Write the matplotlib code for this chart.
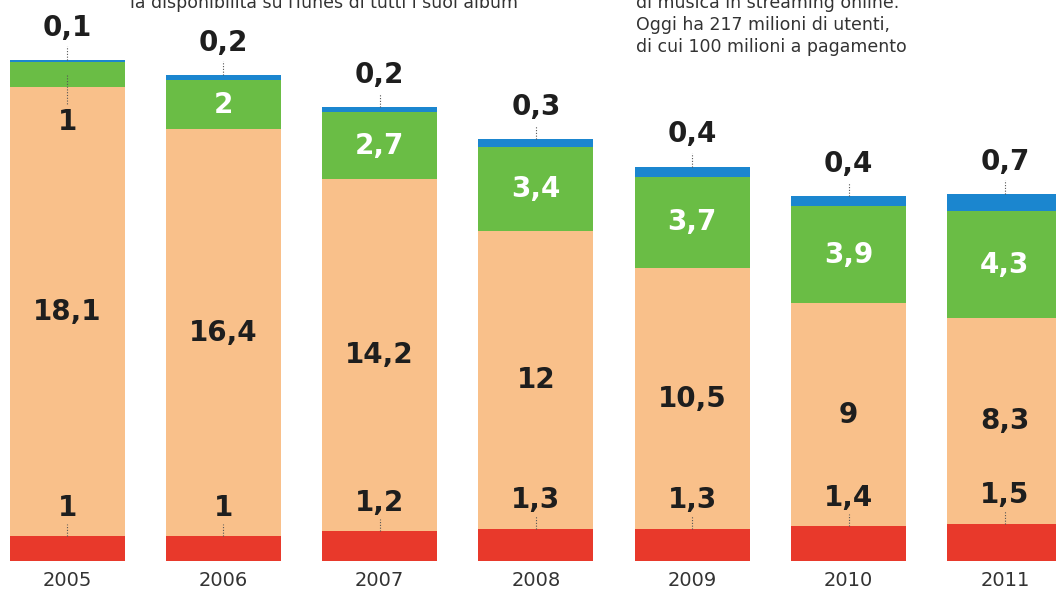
import matplotlib
matplotlib.use('Agg')
import matplotlib.pyplot as plt

# Data (values per segment, bottom to top)
years = ['2005', '2006', '2007', '2008', '2009', '2010', '2011']
red_vals = [1, 1, 1.2, 1.3, 1.3, 1.4, 1.5]
orange_vals = [18.1, 16.4, 14.2, 12, 10.5, 9, 8.3]
green_vals = [1, 2, 2.7, 3.4, 3.7, 3.9, 4.3]
blue_vals = [0.1, 0.2, 0.2, 0.3, 0.4, 0.4, 0.7]

note_left = "la disponibilità su iTunes di tutti i suoi album"
note_right = ["di musica in streaming online.",
              "Oggi ha 217 milioni di utenti,",
              "di cui 100 milioni a pagamento"]

RED = '#e8392b'
ORANGE = '#f9c08a'
GREEN = '#6abd45'
BLUE = '#1b86cf'
DARK = '#1e1e1e'


def fmt(v):
    # Italian decimal comma
    s = f'{v:g}'
    return s.replace('.', ',')


fig = plt.figure(figsize=(10.56, 5.92), dpi=100)
ax = fig.add_axes([0, 31 / 592, 1, 561 / 592])
ax.set_xlim(-0.429, 6.327)
ax.set_ylim(0, 22.62)
ax.axis('off')

x = list(range(len(years)))
w = 0.736
bottom = [0] * len(years)
for vals, col in [(red_vals, RED), (orange_vals, ORANGE), (green_vals, GREEN), (blue_vals, BLUE)]:
    ax.bar(x, vals, width=w, bottom=bottom, color=col, linewidth=0)
    bottom = [b + v for b, v in zip(bottom, vals)]

lbl = dict(fontsize=20, fontweight='bold', ha='center', va='center', color=DARK)
lead = dict(color='#555555', lw=0.8, ls=(0, (1, 1.5)))

for i in x:
    r, o, g, b = red_vals[i], orange_vals[i], green_vals[i], blue_vals[i]
    top = r + o + g + b
    # blue: above the bar with a dotted leader
    ax.text(i, top + 1.3, fmt(b), **lbl)
    ax.plot([i, i], [top, top + 0.55], **lead)
    # green: inside in white, or below in the orange if too thin
    if g >= 1.5:
        ax.text(i, r + o + g / 2, fmt(g), **{**lbl, 'color': 'white'})
    else:
        ax.text(i, r + o - 1.4, fmt(g), **lbl)
        ax.plot([i, i], [r + o + g / 2, r + o - 0.7], **lead)
    # orange: centered
    ax.text(i, r + o / 2, fmt(o), **lbl)
    # red: just above the red band
    ax.text(i, r + 1.15, fmt(r), **lbl)
    ax.plot([i, i], [r, r + 0.5], **lead)
    # year
    ax.text(i, -0.8, years[i], ha='center', va='center', fontsize=14, color='#333333')

ax.set_clip_on(False)
for t in ax.texts:
    t.set_clip_on(False)

fig.text(130 / 1056, 1 - 3 / 592, note_left, fontsize=12.5, color='#333333',
         family=['Liberation Sans Narrow', 'DejaVu Sans'], ha='left', va='center')
for k, line in enumerate(note_right):
    fig.text(636 / 1056, 1 - (3 + 22 * k) / 592, line, fontsize=12.5, color='#333333',
             family=['Liberation Sans Narrow', 'DejaVu Sans'], ha='left', va='center')

fig.savefig('out.png', dpi=100, facecolor='white')
